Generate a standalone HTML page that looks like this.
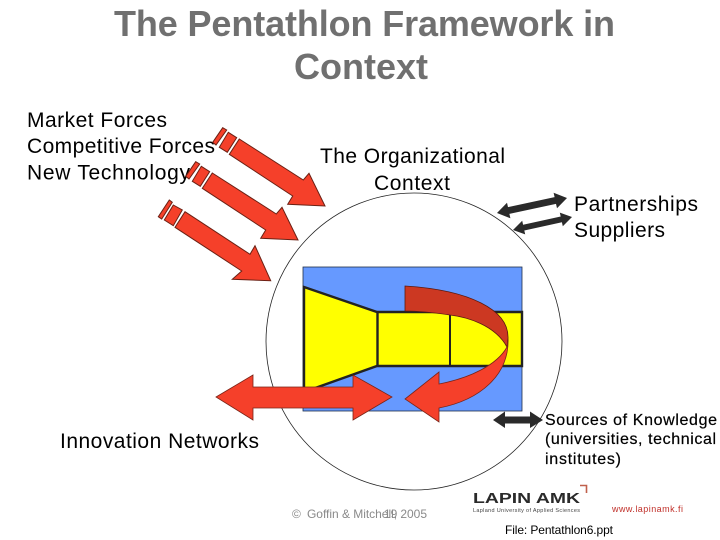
<!DOCTYPE html>
<html>
<head>
<meta charset="utf-8">
<style>
html,body{margin:0;padding:0;background:#fff;width:720px;height:540px;overflow:hidden}
svg{display:block}
text{font-family:"Liberation Sans",sans-serif}
</style>
</head>
<body>
<svg width="720" height="540" viewBox="0 0 720 540" xmlns="http://www.w3.org/2000/svg">
<rect width="720" height="540" fill="#fff"/>
<ellipse cx="414" cy="341.5" rx="148" ry="148.5" fill="none" stroke="#222" stroke-width="0.8"/>

<text x="114" y="36" font-size="36" font-weight="bold" fill="#707070" textLength="501">The Pentathlon Framework in</text>
<text x="294" y="79" font-size="36" font-weight="bold" fill="#707070" textLength="134">Context</text>

<g font-size="21" fill="#000">
<text x="27" y="127" textLength="140">Market Forces</text>
<text x="27" y="153" textLength="188">Competitive Forces</text>
<text x="27" y="179.500" textLength="163">New Technology</text>
<text x="320" y="163" textLength="185">The Organizational</text>
<text x="374" y="190" textLength="76">Context</text>
<text x="574" y="211" textLength="124">Partnerships</text>
<text x="574" y="237" textLength="91">Suppliers</text>
<text x="60" y="448" textLength="199">Innovation Networks</text>
</g>

<g fill="#f5402a" stroke="#6a2014" stroke-width="1">
<polygon points="239.300,139 303.300,180 309,173.300 325,206 287.700,204.300 292.700,196 229.300,154.300"/>
<polygon points="228.300,132.300 236.700,137.700 227.300,152.300 219.300,147.300"/>
<polygon points="222.700,127.700 226.700,130 216,145 212.700,142.300"/>
<polygon points="212.300,173 276.300,214 282,207.300 298,240 260.700,238.300 265.700,230 202.300,188.300"/>
<polygon points="201.300,166.300 209.700,171.700 200.300,186.300 192.300,181.300"/>
<polygon points="195.700,161.700 199.700,164 189,179 185.700,176.300"/>
<polygon points="185,211.700 250,254.300 255,245.700 270.700,280.700 232.300,279.300 241.700,271 175,227.300"/>
<polygon points="173.300,205 182.300,210 173.300,225.700 164.300,220"/>
<polygon points="169.300,200 172.300,202.300 161.700,219 158.300,216.700"/>
</g>

<rect x="303" y="267" width="219" height="144" fill="#6699ff" stroke="#22304a" stroke-width="0.8"/>
<polygon points="304,287 377,312 522,312 522,366 377,366 318,387 304,392" fill="#ffff00" stroke="#222" stroke-width="2.4"/>
<line x1="377.500" y1="312" x2="377.500" y2="366" stroke="#222" stroke-width="2.400"/>
<line x1="450" y1="312" x2="450" y2="366" stroke="#222" stroke-width="2"/>

<path d="M405,286 C470,290 508,310 508,337 L507,347 C495,325 467,317 450,315 C430,312 415,311 405,311 Z" fill="#cc3822" stroke="#5a1a10" stroke-width="0.8"/>
<path d="M508,337 C510,375 480,400 439,408 L439,422 L405,399 L439,372 L439,384 C470,378 497,365 507,347 Z" fill="#f5402a" stroke="#7a2418" stroke-width="0.8"/>

<polygon points="216,397 253,375 253,387 353,387 353,375 392,397 353,420 353,408 253,408 253,420" fill="#f5402a" stroke="#7a2418" stroke-width="0.8"/>

<g fill="#2a2a2a">
<polygon points="497,213 507,202.700 508,207.100 554.600,197.100 553.600,192.700 567,198 557,208.300 556,203.900 509.400,213.900 510.400,218.300"/>
<polygon points="513,230 522.200,220.800 523.100,224.700 560.700,216.500 559.800,212.600 572,217 562.800,226.200 561.900,222.300 524.300,230.500 525.200,234.400"/>
<polygon points="493,420 505,411.500 505,416.500 530,416.500 530,411.500 543,420 530,428 530,423.500 505,423.500 505,428"/>
</g>

<g font-size="16" fill="#000" stroke="#000" stroke-width="0.2">
<text x="545" y="425" textLength="172">Sources of Knowledge</text>
<text x="545" y="444" textLength="171">(universities, technical</text>
<text x="545" y="464" textLength="76">institutes)</text>
</g>

<g font-size="12" fill="#8a8a8a">
<text x="292" y="518">©</text>
<text x="307" y="518" textLength="120">Goffin &amp; Mitchell, 2005</text>
<text x="384" y="518">19</text>
</g>

<text x="473" y="503" font-size="15" font-weight="bold" fill="#2a2a2a" textLength="107" lengthAdjust="spacingAndGlyphs">LAPIN AMK</text>
<text x="473" y="512" font-size="5.500" fill="#444" textLength="107">Lapland University of Applied Sciences</text>
<path d="M580,485.500 H586.500 V493" fill="none" stroke="#c0604c" stroke-width="1.600"/>
<text x="612" y="512" font-size="9" fill="#c0302a" textLength="71">www.lapinamk.fi</text>
<text x="505" y="534" font-size="12" fill="#000" textLength="108">File: Pentathlon6.ppt</text>
</svg>
</body>
</html>
